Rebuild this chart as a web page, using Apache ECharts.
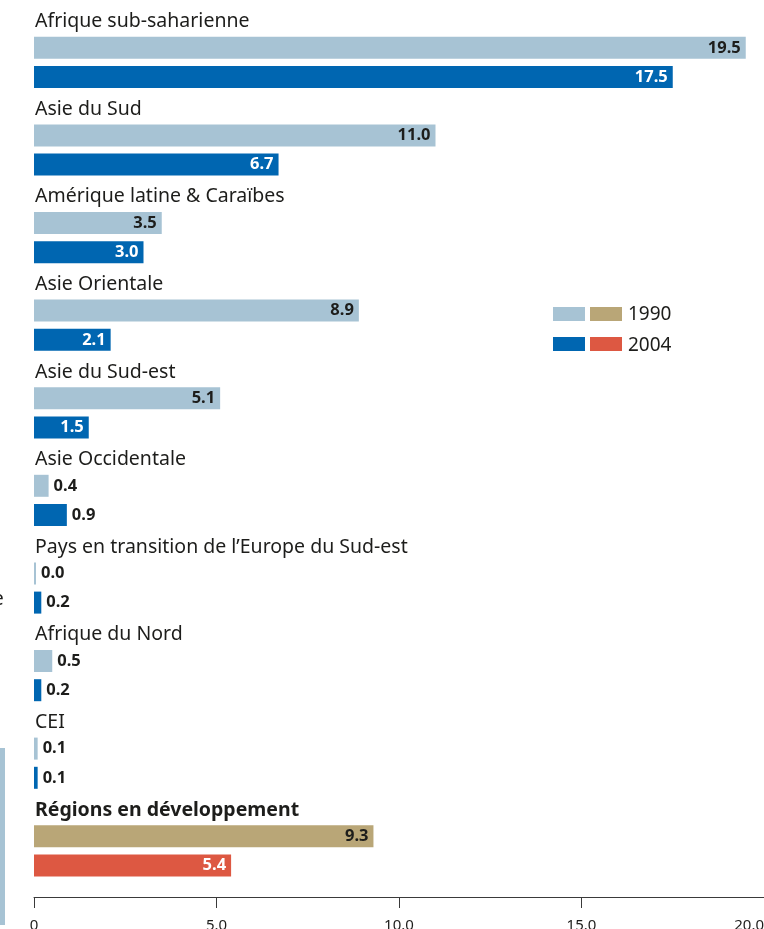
<!DOCTYPE html>
<html>
<head>
<meta charset="utf-8">
<script src="https://cdn.jsdelivr.net/npm/echarts@6/dist/echarts.min.js"></script>
<style>
  html, body { margin: 0; padding: 0; background: #fff; }
  #chart { width: 764px; height: 929px; }
</style>
</head>
<body>
<div id="chart"></div>
<script>
// regions, top to bottom (last one is the total)
var regions = [
  'Afrique sub-saharienne',
  'Asie du Sud',
  'Amérique latine & Caraïbes',
  'Asie Orientale',
  'Asie du Sud-est',
  'Asie Occidentale',
  'Pays en transition de l\u2019Europe du Sud-est',
  'Afrique du Nord',
  'CEI',
  'Régions en développement'
];
var v1990 = [19.5, 11.0, 3.5, 8.9, 5.1, 0.4, 0.0, 0.5, 0.1, 9.3];
var v2004 = [17.5, 6.7, 3.0, 2.1, 1.5, 0.9, 0.2, 0.2, 0.1, 5.4];

var light = '#a7c3d4', blue = '#0066b1', tan = '#b9a677', red = '#dd5842';
var ink = '#1d1d1b';
var FONT = '"Noto Sans", sans-serif';

// three slots per region: name, 1990 bar, 2004 bar
var cats = [], data = [];
regions.forEach(function (r, i) {
  var total = i === regions.length - 1;
  cats.push('t' + i, 'a' + i, 'b' + i);
  data.push(null);
  [[v1990[i], total ? tan : light, false], [v2004[i], total ? red : blue, !total]].forEach(function (d) {
    var val = d[0], inside = val >= 1;
    data.push({
      value: val,
      itemStyle: { color: d[1] },
      label: {
        position: inside ? 'insideRight' : 'right',
        color: inside && (d[2] || d[1] === red) ? '#fff' : ink
      }
    });
  });
});

var chart = echarts.init(document.getElementById('chart'));
chart.setOption({
  animation: false,
  grid: { left: 34, right: 0, top: 4, bottom: 49, outerBoundsMode: 'none', containLabel: false },
  xAxis: {
    type: 'value', min: 0, max: 20, interval: 5, offset: 17,
    splitLine: { show: false },
    axisLine: { show: true, lineStyle: { color: '#3a3a3a', width: 1 } },
    axisTick: { show: true, length: 11, lineStyle: { color: '#3a3a3a' } },
    axisLabel: {
      margin: 21, color: ink, fontFamily: FONT, fontSize: 15,
      alignMaxLabel: 'right',
      formatter: function (v) { return v === 0 ? '0' : v.toFixed(1); }
    }
  },
  yAxis: {
    type: 'category', data: cats, inverse: true,
    axisLine: { show: false }, axisTick: { show: false },
    axisLabel: {
      inside: true, margin: 1, interval: 0, color: ink,
      fontFamily: FONT, fontSize: 19.5, padding: [6, 0, 0, 0],
      formatter: function (v) {
        if (v[0] !== 't') return '';
        var i = +v.slice(1);
        return i === regions.length - 1 ? '{b|' + regions[i] + '}' : regions[i];
      },
      rich: { b: { fontWeight: 'bold', fontSize: 19.5, fontFamily: FONT, color: ink } }
    }
  },
  series: [{
    type: 'bar', data: data, barWidth: 22, barMinHeight: 2,
    label: {
      show: true, distance: 5, fontFamily: FONT, fontSize: 16.5, fontWeight: 'bold',
      formatter: function (p) { return p.value.toFixed(1); }
    }
  }],
  graphic: [
    { type: 'rect', shape: { x: 553, y: 307, width: 32, height: 14 }, style: { fill: light } },
    { type: 'rect', shape: { x: 590, y: 307, width: 32, height: 14 }, style: { fill: tan } },
    { type: 'text', x: 628, y: 315, style: { text: '1990', fontFamily: FONT, fontSize: 19, fill: ink, verticalAlign: 'middle' } },
    { type: 'rect', shape: { x: 553, y: 337, width: 32, height: 14 }, style: { fill: blue } },
    { type: 'rect', shape: { x: 590, y: 337, width: 32, height: 14 }, style: { fill: red } },
    { type: 'text', x: 628, y: 346, style: { text: '2004', fontFamily: FONT, fontSize: 19, fill: ink, verticalAlign: 'middle' } },
    // cropped remnants at the left edge of the source image
    { type: 'text', x: -7, y: 600, style: { text: 'e', fontFamily: FONT, fontSize: 19, fill: ink, verticalAlign: 'middle' } },
    { type: 'rect', shape: { x: 0, y: 748, width: 5, height: 177 }, style: { fill: light } }
  ]
});
</script>
</body>
</html>
